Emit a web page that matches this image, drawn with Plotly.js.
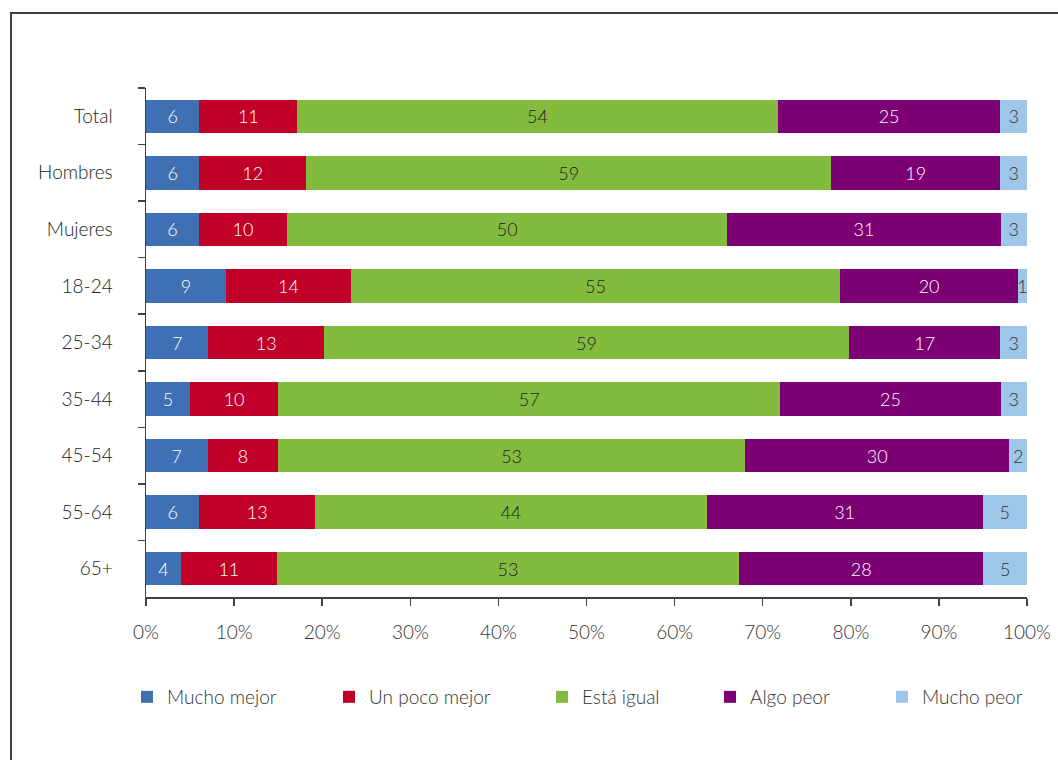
<!DOCTYPE html>
<html>
<head>
<meta charset="utf-8">
<script src="https://cdn.plot.ly/plotly-3.0.1.min.js"></script>
<style>html,body{margin:0;padding:0;background:#fff;}#chart{width:1058px;height:760px;}</style>
</head>
<body>
<div id="chart"></div>
<script>
const categories = ["Total","Hombres","Mujeres","18-24","25-34","35-44","45-54","55-64","65+"];
const seriesNames = ["Mucho mejor","Un poco mejor","Está igual","Algo peor","Mucho peor"];
const muchoMejor  = [6, 6, 6, 9, 7, 5, 7, 6, 4];
const unPocoMejor = [11,12,10,14,13,10,8,13,11];
const estaIgual   = [54,59,50,55,59,57,53,44,53];
const algoPeor    = [25,19,31,20,17,25,30,31,28];
const muchoPeor   = [3, 3, 3, 1, 3, 3, 2, 5, 5];
const xTicks = [0,10,20,30,40,50,60,70,80,90,100];

const seriesValues = [muchoMejor, unPocoMejor, estaIgual, algoPeor, muchoPeor];
const colors = ["#3E70B3","#C00028","#82BB3E","#7C0074","#9DC6E9"];
const textColors = ["#ffffff","#ffffff","#222222","#ffffff","#333333"];
const FONT = "Lato, 'Open Sans', sans-serif";

const W = 1058, H = 760;
const mL = 146, mR = 31, mT = 88, mB = 163;
const pw = W - mL - mR, ph = H - mT - mB;
const px2x = p => (p - mL) / pw;
const py2y = p => (H - mB - p) / ph;

const legendNames = ["legend","legend2","legend3","legend4","legend5"];
const legendCenters = [147, 349, 562, 730, 902];

const traces = seriesValues.map((vals, i) => ({
  type: "bar",
  orientation: "h",
  name: seriesNames[i],
  y: categories,
  x: vals,
  text: vals.map(String),
  textposition: "inside",
  insidetextanchor: "middle",
  textangle: 0,
  textfont: {family: FONT, size: 18, color: textColors[i], weight: 300},
  marker: {color: colors[i], line: {width: 0}},
  legend: legendNames[i],
  showlegend: true,
  hoverinfo: "skip"
}));

const layout = {
  width: W, height: H,
  margin: {l: mL, r: mR, t: mT, b: mB},
  paper_bgcolor: "#ffffff",
  plot_bgcolor: "#ffffff",
  showlegend: true,
  barmode: "stack",
  barnorm: "percent",
  bargap: 0.41,
  font: {family: FONT, size: 19, color: "#333333", weight: 300},
  uniformtext: {minsize: 18, mode: "show"},
  xaxis: {
    range: [0, 100],
    tickvals: xTicks,
    ticktext: xTicks.map(v => v + "%"),
    ticks: "outside", ticklen: 7, tickwidth: 1.5, tickcolor: "#404040",
    showline: true, linecolor: "#404040", linewidth: 1.5,
    showgrid: false, zeroline: false,
    ticklabelstandoff: 11,
    tickfont: {family: FONT, size: 19, color: "#333333", weight: 300},
    fixedrange: true
  },
  yaxis: {
    type: "category",
    autorange: "reversed",
    tickson: "boundaries",
    ticks: "outside", ticklen: 7, tickwidth: 1.5, tickcolor: "#404040",
    showline: true, linecolor: "#404040", linewidth: 1.5,
    showgrid: false, zeroline: false,
    ticklabelstandoff: 28,
    tickfont: {family: FONT, size: 19, color: "#222222", weight: 300},
    fixedrange: true
  },
  shapes: [{
    type: "path", xref: "paper", yref: "paper",
    path: `M ${px2x(11)} ${py2y(770)} L ${px2x(11)} ${py2y(13)} L ${px2x(1070)} ${py2y(13)}`,
    line: {color: "#404040", width: 2}
  }]
};

legendNames.forEach((ln, i) => {
  layout[ln] = {
    visible: true,
    orientation: "h",
    x: px2x(legendCenters[i] - 20),
    xanchor: "left",
    y: py2y(697),
    yanchor: "middle",
    bgcolor: "rgba(0,0,0,0)",
    borderwidth: 0,
    font: {family: FONT, size: 19, color: "#333333", weight: 300}
  };
});

Plotly.newPlot("chart", traces, layout, {staticPlot: true, displayModeBar: false});
</script>
</body>
</html>
